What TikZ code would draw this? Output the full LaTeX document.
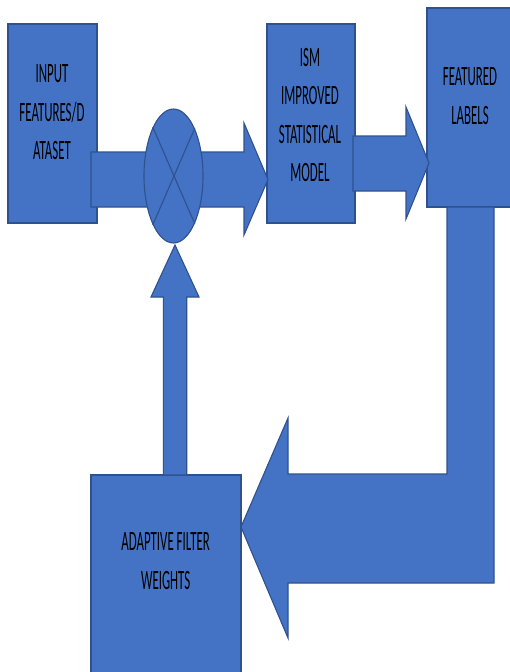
\documentclass[tikz,border=0pt]{standalone}
\usepackage{fontspec}
\usetikzlibrary{shapes.geometric}
\newfontfamily\lbl[FakeStretch=0.46]{Carlito}
\definecolor{blockfill}{HTML}{4472C4}
\definecolor{blockline}{HTML}{2F528F}
\begin{document}
\begin{tikzpicture}[x=1pt,y=-1pt,
  blk/.style={draw=blockline,fill=blockfill,line width=1.1pt,line join=miter},
  box/.style={blk,rectangle,inner sep=0pt},
  txt/.style={align=center,inner sep=0pt,text=black,
    font=\lbl\fontsize{28}{38.5}\selectfont}]
\useasboundingbox (0,0) rectangle (510,672);
\clip (0,0) rectangle (510,672);

% processing blocks
\node[box,minimum width=89pt,minimum height=199pt] (inp) at (52.5,123.5) {};
\node[box,minimum width=88pt,minimum height=199pt] (ism) at (311,123.5) {};
\node[box,minimum width=86pt,minimum height=199pt] (lab) at (470,107.5) {};
\node[box,minimum width=150pt,minimum height=205pt] (adf) at (166,577.5) {};

% input -> ISM block arrow
\draw[blk] (91,152) -- (244,152) -- (244,123) -- (268,179.5) -- (244,235)
  -- (244,207) -- (91,207) -- cycle;
% ISM -> labels block arrow
\draw[blk] (353,136) -- (406,136) -- (406,107) -- (429,163) -- (406,219)
  -- (406,191) -- (353,191) -- cycle;
% feedback from labels to the adaptive filter
\draw[blk] (447,207) -- (494,207) -- (494,583) -- (288,583) -- (288,638)
  -- (241,527) -- (288,418) -- (288,474) -- (447,474) -- cycle;
% filter weights -> multiplier
\draw[blk] (163.3,475) -- (163.3,297) -- (151,297) -- (175,245) -- (199,297)
  -- (186.7,297) -- (186.7,475) -- cycle;

% multiplier junction
\node[blk,ellipse,minimum width=59pt,minimum height=134pt,inner sep=0pt] (mul) at (173.5,176) {};
\draw[draw=blockline,line width=1.1pt]
  (mul.113.8) -- (mul.-66.2)
  (mul.66.2) -- (mul.-113.8);

% block labels
\node[txt] (tinp) at (52,112.5) {INPUT\\FEATURES/D\\ATASET};
\node[txt] (tism) at (310,115) {ISM\\IMPROVED\\STATISTICAL\\MODEL};
\node[txt] (tlab) at (470,96) {FEATURED\\LABELS};
\node[txt] (tadf) at (165.7,561) {ADAPTIVE FILTER\\WEIGHTS};
\end{tikzpicture}
\end{document}
